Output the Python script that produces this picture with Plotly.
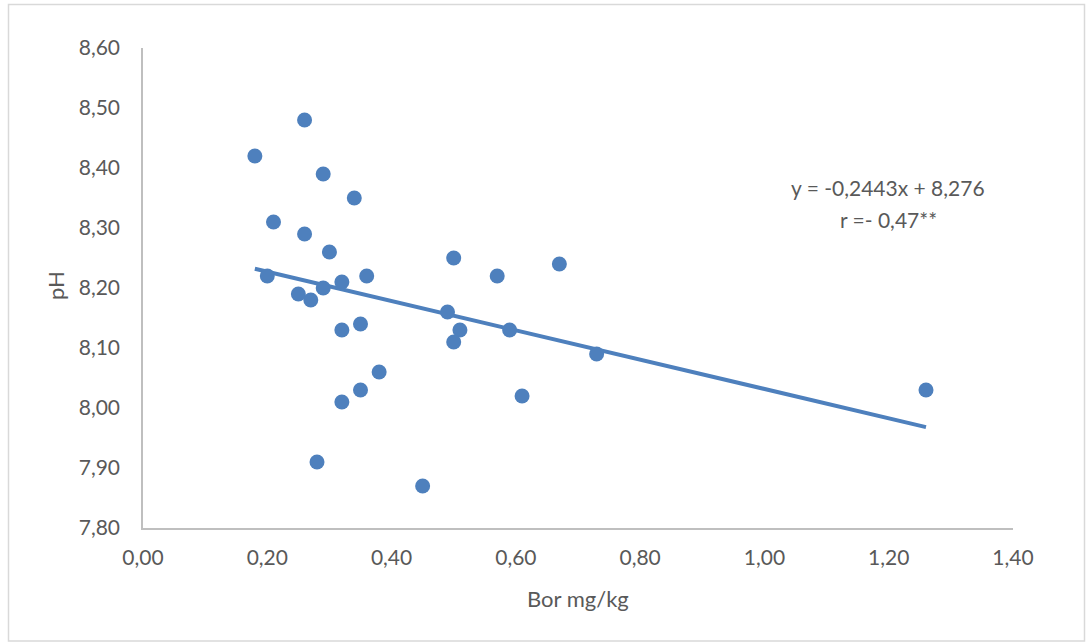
import plotly.graph_objects as go

bor = [0.18, 0.26, 0.29, 0.34, 0.21, 0.26, 0.30, 0.20, 0.25, 0.27, 0.29, 0.32, 0.36,
       0.32, 0.35, 0.38, 0.35, 0.32, 0.28, 0.45, 0.49, 0.50, 0.51, 0.50, 0.57, 0.59,
       0.61, 0.67, 0.73, 1.26]
ph = [8.42, 8.48, 8.39, 8.35, 8.31, 8.29, 8.26, 8.22, 8.19, 8.18, 8.20, 8.21, 8.22,
      8.13, 8.14, 8.06, 8.03, 8.01, 7.91, 7.87, 8.16, 8.25, 8.13, 8.11, 8.22, 8.13,
      8.02, 8.24, 8.09, 8.03]
slope = -0.2443
intercept = 8.276
x_ticks = [0.0, 0.2, 0.4, 0.6, 0.8, 1.0, 1.2, 1.4]
y_ticks = [7.8, 7.9, 8.0, 8.1, 8.2, 8.3, 8.4, 8.5, 8.6]
eq_lines = ["y = -0,2443x + 8,276", "r =- 0,47**"]

blue = "#4E80BD"
grey_text = "#595959"
font = "Lato, 'Open Sans', sans-serif"

trend_x = [min(bor), max(bor)]
trend_y = [slope * v + intercept for v in trend_x]

fig = go.Figure()
fig.add_trace(go.Scatter(x=trend_x, y=trend_y, mode="lines",
                         line=dict(color=blue, width=4), hoverinfo="skip"))
fig.add_trace(go.Scatter(x=bor, y=ph, mode="markers",
                         marker=dict(color=blue, size=15, line=dict(width=0))))

W, H = 1090, 644
L, R, T, B = 143, 77, 48, 116
pw, ph_ = W - L - R, H - T - B

def px(xp):
    return (xp - L) / pw

def py(yp):
    return (H - B - yp) / ph_

fig.add_shape(type="rect", xref="paper", yref="paper",
              x0=px(8.5), x1=px(1084.5), y0=py(641), y1=py(4.5),
              line=dict(color="#D9D9D9", width=1.5), fillcolor="rgba(0,0,0,0)")

for text, yy in zip(eq_lines, [188, 220]):
    fig.add_annotation(xref="paper", yref="paper", x=px(888), y=py(yy),
                       xanchor="center", yanchor="middle",
                       text=text, showarrow=False,
                       font=dict(family=font, size=21, color=grey_text))

fig.add_annotation(xref="paper", yref="paper", x=px(578), y=py(598),
                   xanchor="center", yanchor="middle",
                   text="Bor mg/kg", showarrow=False,
                   font=dict(family=font, size=22, color=grey_text))
fig.add_annotation(xref="paper", yref="paper", x=px(55), y=py(286),
                   xanchor="center", yanchor="middle",
                   text="pH", showarrow=False, textangle=-90,
                   font=dict(family=font, size=22, color=grey_text))

fig.update_layout(
    width=W, height=H,
    margin=dict(l=L, r=R, t=T, b=B),
    paper_bgcolor="white", plot_bgcolor="white",
    showlegend=False,
    separators=", ",
    font=dict(family=font, color=grey_text, size=21),
    xaxis=dict(range=[0, 1.4], tickvals=x_ticks, tickformat=".2f",
               showgrid=False, zeroline=False, showline=True, linecolor="#BFBFBF",
               linewidth=1.5, ticks="", ticklabelstandoff=10),
    yaxis=dict(range=[7.8, 8.6], tickvals=y_ticks, tickformat=".2f",
               showgrid=False, zeroline=False, showline=True, linecolor="#BFBFBF",
               linewidth=1.5, ticks="", ticklabelstandoff=17),
)

fig.write_html("out.html", config={"displayModeBar": False},
               post_script="document.body.style.margin='0';document.body.style.overflow='hidden';")
